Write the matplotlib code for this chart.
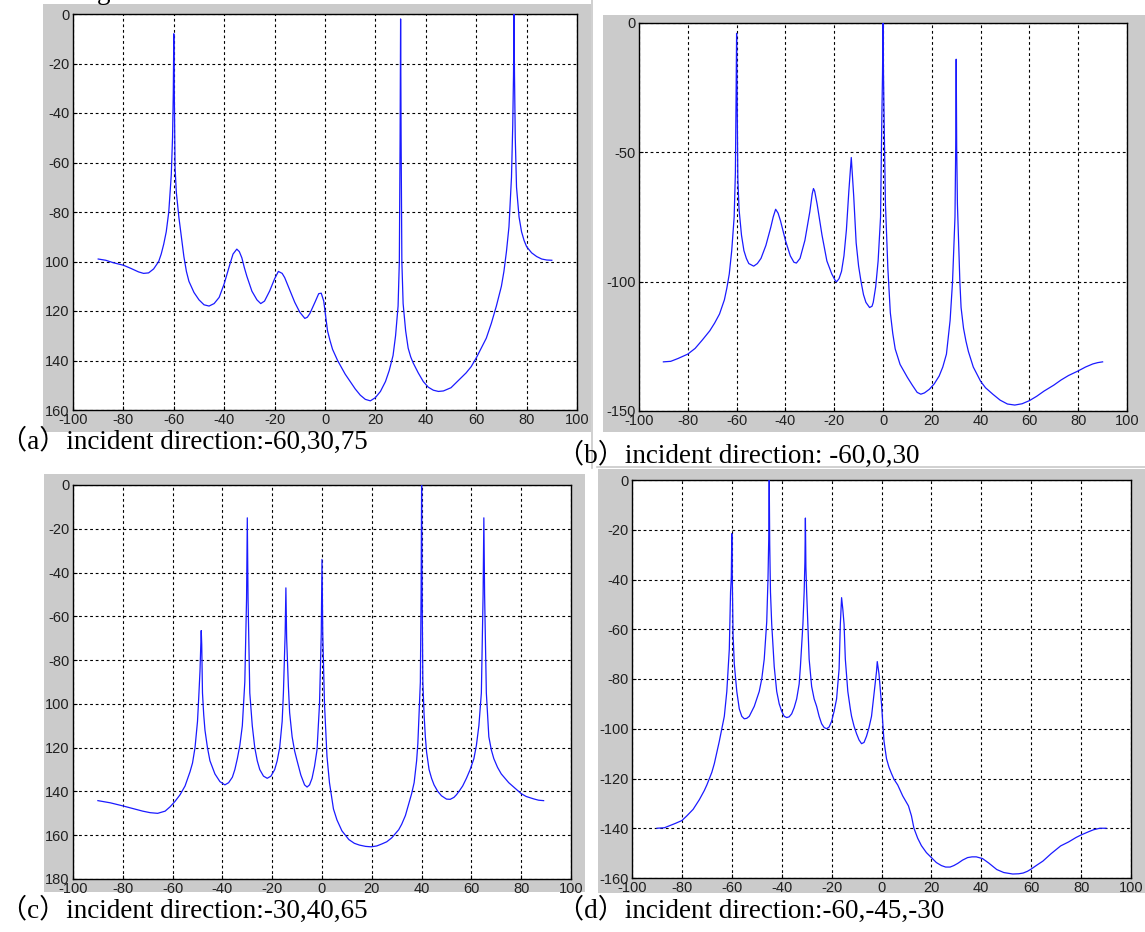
import matplotlib
matplotlib.use("Agg")
import matplotlib.pyplot as plt
from matplotlib.patches import Rectangle
from matplotlib.lines import Line2D

# ---------------- data ----------------
x_ticks = [-100, -80, -60, -40, -20, 0, 20, 40, 60, 80, 100]
x_tick_labels = ['-100', '-80', '-60', '-40', '-20', '0', '20', '40', '60', '80', '100']

a_x = [-90, -87, -84, -80, -77, -74, -72, -70, -68, -66, -65, -64, -63, -62, -61, -60.5, -60.2, -60, -59.8,
       -59.5, -59, -58, -57, -56, -55, -54, -52, -50, -48, -46, -44, -42, -40, -38, -36.5, -35, -34, -33, -32,
       -31, -29, -27, -25.5, -24, -22, -20, -18.5, -17, -16, -14, -12, -10, -8, -7, -6, -4, -2.5, -1.5, -0.5,
       0, 1, 2, 3, 5, 8, 10, 12, 14, 16, 18, 20, 22, 24, 25.5, 27, 28, 29, 29.5, 29.8, 30, 30.2, 30.5, 31, 32,
       33, 34, 35, 37, 39, 41, 43, 45, 47, 50, 53, 56, 58, 60, 62, 64, 66, 68, 70, 71, 72, 73, 74, 74.5, 74.8,
       75, 75.2, 75.5, 76, 77, 78, 79, 80, 82, 84, 86, 88, 90]
a_y = [-99, -99.5, -100.5, -101.5, -102.8, -104.2, -104.8, -104.6, -103, -100, -97, -93, -88, -80, -65, -50,
       -32, -8, -32, -62, -72, -82, -90, -98, -104, -108, -112.5, -115.5, -117.5, -118, -117, -114.5, -109,
       -102, -97, -95, -96, -98.5, -102.5, -106, -112, -115.5, -117, -116, -112, -107, -104, -104.8, -106.5,
       -111.5, -116.5, -120.5, -123, -122.5, -121, -116.5, -113, -112.8, -116, -120, -128, -132, -135.5, -140,
       -145.5, -148.5, -151.5, -154, -155.7, -156.3, -155, -152.5, -148.5, -144, -138, -130, -118, -100, -50,
       -2, -50, -100, -117, -128, -135, -138.5, -141, -145, -148.5, -150.8, -152, -152.5, -152.3, -151, -148,
       -145, -142.5, -139, -135, -131, -125, -118, -110, -104, -96, -86, -66, -45, -25, 0, -25, -50, -70, -82,
       -88, -91.5, -94, -96.5, -98, -99, -99.4, -99.5]
a_yticks = [0, -20, -40, -60, -80, -100, -120, -140, -160]
a_ytick_labels = ['0', '-20', '-40', '-60', '-80', '100', '120', '140', '160']

b_x = [-90, -87, -84, -80, -77, -74, -71, -69, -67, -65, -64, -63, -62, -61, -60.5, -60.2, -60, -59.8, -59.5,
       -59, -58, -57, -56, -55, -53, -51.5, -50, -48, -46, -45, -44, -43, -42, -40, -38, -36.5, -35.5, -34,
       -32, -30, -29, -28.5, -28, -27, -25, -23, -21, -19.5, -19, -18, -17, -16, -15, -14, -13, -12, -11, -10,
       -9, -8, -7, -5.5, -4.5, -4, -3, -2, -1, -0.5, -0.2, 0, 0.2, 0.5, 1, 2, 3, 4, 5, 7, 10, 12, 14, 15.5, 17,
       19, 21, 23, 24.5, 26, 27.5, 28.5, 29.5, 29.8, 30, 30.2, 30.5, 31.5, 32, 33, 34, 35, 37, 40, 42, 45, 48,
       51, 54, 57, 60, 63, 66, 70, 73, 76, 80, 83, 86, 88, 90]
b_y = [-131, -130.8, -129.7, -128, -125.8, -122.5, -119, -116, -112.5, -107, -102.5, -97, -88, -75, -58, -27,
       -4, -27, -60, -72, -82, -88, -91, -93, -94, -93, -91, -86, -79, -75, -72, -73.5, -76.5, -84, -90, -92.5,
       -92.8, -91, -84, -73, -66, -64, -65, -70, -82, -92, -97, -99.7, -100, -98.8, -96, -90, -80, -65, -52,
       -67, -85, -94, -100, -105, -108, -110, -109.5, -108, -102, -92, -75, -38, -20, 0, -20, -40, -70, -95,
       -112, -120, -126, -132, -137, -140, -142.8, -143.5, -143, -141.6, -139.5, -136.5, -133, -128, -115,
       -100, -75, -48, -14, -48, -70, -100, -110, -118, -123, -127, -133, -138.5, -141, -143.5, -145.8, -147.3,
       -147.7, -147.2, -146, -144.3, -142.3, -140, -138, -136.3, -134.5, -133, -131.8, -131.3, -131]
b_yticks = [0, -50, -100, -150]
b_ytick_labels = ['0', '-50', '-100', '-150']

c_x = [-90, -85, -80, -76, -72, -69, -66, -63, -61, -59, -57, -55, -53, -52, -51, -50, -49.5, -49, -48.7,
       -48.5, -48.3, -48, -47.5, -47, -46, -45, -43, -41, -39, -37.5, -36, -35, -34, -33, -32, -31, -30.3, -30,
       -29.7, -29, -28, -27, -26, -25, -23.5, -22, -20.5, -19, -18, -17, -16, -15.5, -14.8, -14.5, -14.2,
       -13.5, -13, -12, -11, -10, -8.5, -7, -6, -5, -4, -3, -2, -1, -0.3, 0, 0.3, 1, 2, 3, 4.6, 6, 8, 10.8, 13,
       15, 17.5, 19.7, 22, 24, 26, 28, 30.8, 32, 33.5, 35, 36, 37, 38, 38.5, 39.5, 39.8, 40, 40.2, 40.5, 41,
       41.5, 42, 43, 44, 45, 46.5, 48, 50, 51.5, 53, 54, 55, 56.5, 58, 59.5, 61, 62, 63, 64, 64.7, 65, 65.3, 66,
       67, 68, 69, 70.5, 72, 75, 78, 80, 82, 85, 87, 89]
c_y = [-144.2, -145.2, -146.6, -147.8, -149, -149.7, -150, -149, -147, -144.5, -141.5, -137.5, -131, -127,
       -120, -108, -97, -85, -73, -66.5, -73, -95, -105, -112, -120, -126, -132, -135.5, -137, -136, -133.5,
       -130, -125, -119, -110, -90, -52, -15, -52, -95, -110, -120, -126, -130, -133, -134, -133, -130, -126,
       -120, -108, -95, -68, -47, -70, -92, -104, -115, -121.5, -126, -132.5, -137, -138, -137, -134, -128.5,
       -121, -100, -68, -34, -68, -100, -124, -136, -148, -153, -158, -162, -163.7, -164.5, -165.1, -165.3,
       -164.9, -164, -163, -161.2, -157.5, -155, -151, -145, -141, -136, -126, -118, -90, -49, 0, -49, -90,
       -105, -115, -122, -130, -134, -137, -140, -142, -143.5, -143.6, -142.7, -141.5, -140, -137.5, -134,
       -130, -125, -119, -110, -95, -50, -15, -50, -95, -115, -121, -125, -129, -132, -136, -139, -141, -142.3,
       -143.4, -144, -144.2]
c_yticks = [0, -20, -40, -60, -80, -100, -120, -140, -160, -180]
c_ytick_labels = ['0', '-20', '-40', '-60', '-80', '100', '120', '140', '160', '180']

d_x = [-90, -87, -85, -82.5, -80, -78, -75.5, -73, -71, -70, -68, -67, -66, -65, -64, -63, -62, -61, -60.5,
       -60.2, -60, -59.8, -59.5, -59, -58, -57, -56, -55, -54, -53, -51, -49, -48, -47, -46, -45.5, -45.2, -45,
       -44.8, -44.5, -44, -43, -42, -41, -40, -39, -38, -37, -36, -35, -34, -33, -32.5, -31.5, -31, -30.7,
       -30.5, -30.3, -30, -29.5, -29, -28, -27, -26, -25, -24, -23, -22, -21, -20, -19, -18, -17, -16.5, -16,
       -15.5, -15, -14.5, -13.5, -12.5, -12, -11, -10, -9, -8, -7, -6, -5, -4, -3, -2, -1.7, -1, -0.5, 0, 1, 2,
       3, 4, 5, 6.5, 8.5, 10.8, 12, 13, 14.5, 16, 18, 20, 22, 24, 25.7, 27.5, 29, 30.6, 32.5, 34.5, 36.3, 38,
       40.5, 43, 46.2, 49, 52.6, 55, 56.8, 58.5, 60, 62, 64.7, 68, 71.8, 75, 78, 80, 83, 85, 87.5, 90]
d_y = [-140, -139.8, -139, -138, -136.9, -135, -132.4, -128.5, -124.8, -122.6, -117.5, -114, -109.5, -105, -100,
       -95, -85, -68, -45, -39, -21.6, -40, -62, -74, -85, -92, -95, -96, -95.8, -95, -91, -85, -80, -72, -57,
       -40, -24, 0, -26, -45, -58, -75, -85, -90, -93, -95, -95.5, -95.2, -94, -91.5, -88, -82, -75, -58, -45,
       -33, -15.3, -35, -45, -58, -72, -83, -88, -91, -95, -98, -99.5, -100, -99.3, -97, -93, -88, -76, -58,
       -47.3, -52, -58, -72, -85, -92, -95, -99, -102, -104.5, -106, -105.5, -103, -99.5, -95, -86, -77, -73,
       -78, -84, -90, -105, -112, -115.5, -118, -120.3, -122.6, -127, -131, -135, -140, -144, -147, -149.8,
       -151.8, -153.8, -155, -155.6, -155.6, -155, -154.1, -152.8, -151.8, -151.5, -151.5, -152.2, -154,
       -156.6, -157.8, -158.4, -158.3, -158, -157.3, -156.4, -155, -153.2, -150.2, -147.1, -145.5, -143.7,
       -142.7, -141.4, -140.6, -140, -140]
d_yticks = [0, -20, -40, -60, -80, -100, -120, -140, -160]
d_ytick_labels = ['0', '-20', '-40', '-60', '-80', '-100', '-120', '-140', '-160']

captions = ['（a）incident direction:-60,30,75',
            '（b）incident direction: -60,0,30',
            '（c）incident direction:-30,40,65',
            '（d）incident direction:-60,-45,-30']

# ---------------- figure ----------------
W, H = 1145, 932
fig = plt.figure(figsize=(W / 100, H / 100), dpi=100)
fig.patch.set_facecolor('white')

GRAY = '#cbcbcb'


def px_rect(x0, y0, x1, y1, **kw):
    fig.add_artist(Rectangle((x0 / W, 1 - y1 / H), (x1 - x0) / W, (y1 - y0) / H,
                             transform=fig.transFigure, **kw))


def px_axes(x0, y0, x1, y1):
    return fig.add_axes([x0 / W, 1 - y1 / H, (x1 - x0) / W, (y1 - y0) / H])


# gray figure backgrounds
px_rect(43, 4, 591, 432, facecolor=GRAY, edgecolor='none', zorder=0)
px_rect(603, 15, 1145, 432, facecolor=GRAY, edgecolor='none', zorder=0)
px_rect(44, 474, 585, 892, facecolor=GRAY, edgecolor='none', zorder=0)
px_rect(598, 469, 1145, 893, facecolor=GRAY, edgecolor='none', zorder=0)

# thin screenshot borders
fig.add_artist(Line2D([592 / W, 592 / W], [1, 1 - 468 / H], transform=fig.transFigure,
                      color='#c8c8c8', lw=1.2))
fig.add_artist(Line2D([597 / W, 1], [1 - 467 / H, 1 - 467 / H], transform=fig.transFigure,
                      color='#c8c8c8', lw=1.2))

panels = [
    ((73, 14, 577, 410), a_x, a_y, a_yticks, a_ytick_labels, (-160, 0)),
    ((639, 23, 1127, 411), b_x, b_y, b_yticks, b_ytick_labels, (-150, 0)),
    ((73, 485, 571, 879), c_x, c_y, c_yticks, c_ytick_labels, (-180, 0)),
    ((632, 480, 1131, 878), d_x, d_y, d_yticks, d_ytick_labels, (-160, 0)),
]

tick_font = dict(family='Liberation Sans', size=10.5)

for box, xs, ys, yt, ytl, ylim in panels:
    ax = px_axes(*box)
    ax.set_facecolor('white')
    ax.plot(xs, ys, color='#1a1aff', lw=0.9, zorder=3)
    ax.set_xlim(-100, 100)
    ax.set_ylim(*ylim)
    ax.set_xticks(x_ticks)
    ax.set_xticklabels(x_tick_labels, fontdict=tick_font, color='#202020')
    ax.set_yticks(yt)
    ax.set_yticklabels(ytl, fontdict=tick_font, color='#202020')
    ax.tick_params(direction='in', length=3, width=0.8, pad=2.5, colors='black',
                   labelcolor='#202020')
    ax.grid(True, color='black', linestyle=(0, (2.5, 2.5)), linewidth=0.8, zorder=1)
    ax.set_axisbelow(True)
    for s in ax.spines.values():
        s.set_color('black')
        s.set_linewidth(1.0)

cap_font = ['Liberation Serif', 'Noto Sans CJK SC']
cap_pos = [(0, 441), (557, 455), (0, 910), (557, 910)]
for (cx, cy), txt in zip(cap_pos, captions):
    fig.text(cx / W, 1 - cy / H, txt, family=cap_font, fontsize=19.5, color='black',
             ha='left', va='center')

# clipped glyph at the very top (line above the figure)
fig.text(97 / W, 1 + 1 / H, 'g', family='Liberation Serif', fontsize=19.5, ha='left',
         va='baseline', color='black')

fig.savefig('out.png', dpi=100, facecolor='white')
